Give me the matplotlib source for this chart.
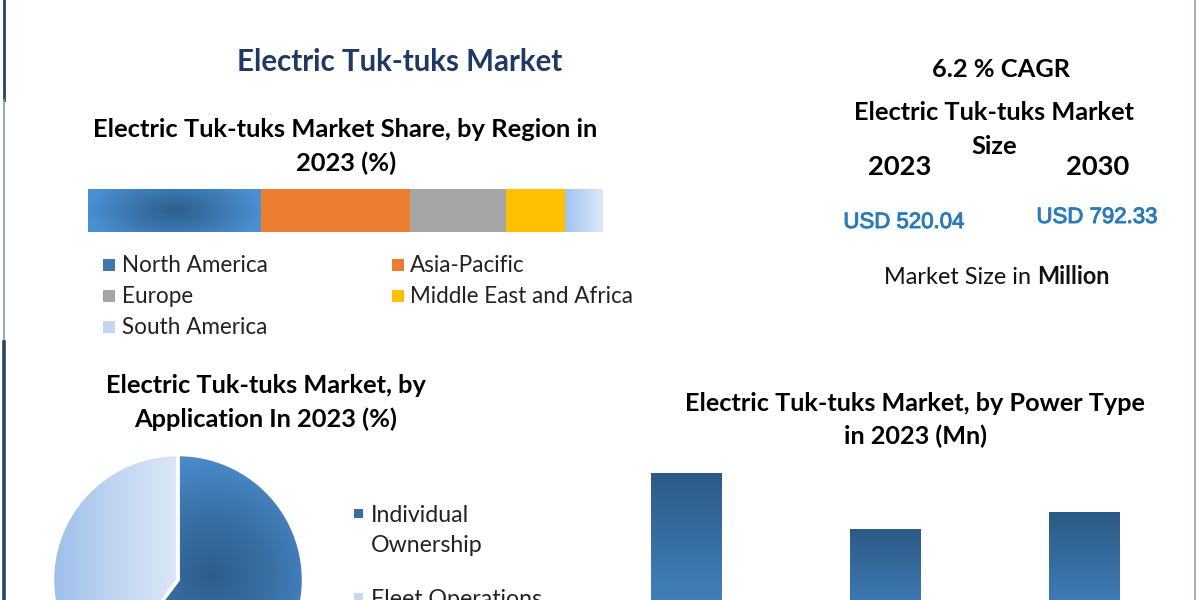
import numpy as np
import matplotlib
matplotlib.use("Agg")
import matplotlib.pyplot as plt
from matplotlib.colors import LinearSegmentedColormap
from matplotlib.patches import Rectangle
from matplotlib.lines import Line2D
import matplotlib.patheffects as pe

# ---------------- data ----------------
regions = ["North America", "Asia-Pacific", "Europe", "Middle East and Africa", "South America"]
region_share = [33.6, 29.1, 18.6, 11.5, 7.2]
region_colors = ["#3f78b0", "#ed7d31", "#a5a5a5", "#ffc000", "#c3d6f2"]

applications = ["Individual\nOwnership", "Fleet Operations"]
application_share = [60.3, 39.7]
application_colors = ["#3a6ea2", "#c6d9f2"]

power_types = ["Power Type 1", "Power Type 2", "Power Type 3"]
power_values = [209, 146, 165]

cagr_text = "6.2 % CAGR"
years = ["2023", "2030"]
market_size = ["USD 520.04", "USD 792.33"]

# ---------------- figure ----------------
W, H = 1200, 600
fig = plt.figure(figsize=(12, 6), dpi=100)
fig.patch.set_facecolor("white")
renderer = fig.canvas.get_renderer()

HEAD = "Lato"
BODY = "Lato"


def fit_size(s, w, **kw):
    t = fig.text(0, 0, s, fontsize=20, **kw)
    bb = t.get_window_extent(renderer)
    t.remove()
    return 20 * w / bb.width


def put(s, x, y, size, ha="center", va="baseline", **kw):
    return fig.text(x / W, 1 - y / H, s, fontsize=size, ha=ha, va=va, **kw)


def axes_px(x0, y0, x1, y1):
    return fig.add_axes([x0 / W, 1 - y1 / H, (x1 - x0) / W, (y1 - y0) / H])


# ---------------- border lines ----------------
line_ax = fig.add_axes([0, 0, 1, 1])
line_ax.set_xlim(0, W)
line_ax.set_ylim(H, 0)
line_ax.axis("off")
line_ax.add_line(Line2D([3.5, 3.5], [0, 100], color="#2b4460", lw=2.0))
line_ax.add_line(Line2D([3.5, 3.5], [100, 342], color="#8898a8", lw=1.2))
line_ax.add_line(Line2D([4, 4], [342, 600], color="#2b4460", lw=2.6))
line_ax.add_line(Line2D([1195, 1195], [0, 600], color="#9aa4ae", lw=1.2))

# ---------------- titles ----------------
s = fit_size("Electric Tuk-tuks Market", 327, family=HEAD, weight="bold")
put("Electric Tuk-tuks Market", 400, 71, s, family=HEAD, weight="bold", color="#1f3864")

s = fit_size("Electric Tuk-tuks Market Share, by Region in", 505, family=HEAD, weight="bold")
put("Electric Tuk-tuks Market Share, by Region in", 345, 137, s, family=HEAD, weight="bold", color="black")
put("2023 (%)", 346, 171, s, family=HEAD, weight="bold", color="black")

# right panel
s = fit_size("Electric Tuk-tuks Market", 281, family=HEAD, weight="bold")
put(cagr_text, 1001, 77, s, family=HEAD, weight="bold", color="black")
put("Electric Tuk-tuks Market", 994, 120, s, family=HEAD, weight="bold", color="black")
put("Size", 994, 154, s, family=HEAD, weight="bold", color="black")
put(years[0], 900, 175, s * 1.08, family=HEAD, weight="bold", color="black")
put(years[1], 1098, 175, s * 1.08, family=HEAD, weight="bold", color="black")

s_usd = fit_size(market_size[0], 121, family="Liberation Sans")
thick = [pe.withStroke(linewidth=0.7, foreground="#2b7bb9")]
put(market_size[0], 904, 228, s_usd, family="Liberation Sans", color="#2b7bb9", path_effects=thick)
put(market_size[1], 1097, 223, s_usd, family="Liberation Sans", color="#2b7bb9", path_effects=thick)

# "Market Size in Million"
s_ms = 16
t1 = fig.text(0, 0, "Market Size in ", fontsize=s_ms, family=BODY)
t2 = fig.text(0, 0, "Million", fontsize=s_ms, family=BODY, weight="bold")
w1 = t1.get_window_extent(renderer).width
w2 = t2.get_window_extent(renderer).width
t1.remove(); t2.remove()
k = 227 / (w1 + w2)
s_ms *= k
w1 *= k; w2 *= k
x0 = 997 - 227 / 2
put("Market Size in ", x0, 284, s_ms, ha="left", family=BODY, color="#111111")
put("Million", x0 + w1, 284, s_ms, ha="left", family=BODY, weight="bold", color="#111111")

# bottom headings
s = fit_size("Electric Tuk-tuks Market, by", 321, family=HEAD, weight="bold")
put("Electric Tuk-tuks Market, by", 266, 393, s, family=HEAD, weight="bold", color="black")
put("Application In 2023 (%)", 266, 427, s, family=HEAD, weight="bold", color="black")

s = fit_size("Electric Tuk-tuks Market, by Power Type", 462, family=HEAD, weight="bold")
put("Electric Tuk-tuks Market, by Power Type", 915, 411, s, family=HEAD, weight="bold", color="black")
put("in 2023 (Mn)", 915, 444, s, family=HEAD, weight="bold", color="black")

# ---------------- stacked region bar ----------------
bar_x0, bar_x1, bar_y0, bar_y1 = 88, 602, 189, 232
ax1 = axes_px(bar_x0, bar_y0, bar_x1, bar_y1)
lefts = np.concatenate([[0], np.cumsum(region_share)[:-1]])
patches = []
for i in range(len(regions)):
    b = ax1.barh([0.5], [region_share[i]], left=[lefts[i]], height=1, color=region_colors[i])
    patches += list(b.patches)
ax1.set_xlim(0, sum(region_share))
ax1.set_ylim(0, 1)
ax1.axis("off")

# gradients for North America (radial dark core) and South America (horizontal)
na_cmap = LinearSegmentedColormap.from_list("na", ["#2d5f8f", "#3b76ad", "#4a8fd2"])
xx, yy = np.meshgrid(np.linspace(0, 1, 300), np.linspace(0, 1, 60))
d = np.sqrt(((xx - 0.5) / 0.5) ** 2 + ((yy - 0.5) / 0.9) ** 2)
im = ax1.imshow(np.clip(d, 0, 1), cmap=na_cmap, vmin=0, vmax=1, aspect="auto",
                extent=[lefts[0], lefts[0] + region_share[0], 0, 1], origin="lower", zorder=3)
im.set_clip_path(patches[0])
sa_cmap = LinearSegmentedColormap.from_list("sa", ["#a2c3ee", "#dde8f8"])
grad = np.tile(np.linspace(0, 1, 100), (10, 1))
im = ax1.imshow(grad, cmap=sa_cmap, aspect="auto",
                extent=[lefts[4], lefts[4] + region_share[4], 0, 1], origin="lower", zorder=3)
im.set_clip_path(patches[4])
ax1.set_xlim(0, sum(region_share))
ax1.set_ylim(0, 1)

# region legend
leg_rows = [(0, 0), (1, 0), (0, 1), (1, 1), (0, 2)]
col_sq = [103, 392]
col_tx = [122, 410]
row_base = [272, 303, 334]
s_leg = fit_size("North America", 146, family=BODY)
for i, name in enumerate(regions):
    c, r = leg_rows[i]
    line_ax.add_patch(Rectangle((col_sq[c], row_base[r] - 13), 12, 12, color=region_colors[i], lw=0))
    put(name, col_tx[c], row_base[r], s_leg, ha="left", family=BODY, color="#222222")

# ---------------- pie ----------------
cx, cy, R = 178, 580, 128
ax2 = axes_px(cx - R, cy - R, cx + R, cy + R)
wedges, _ = ax2.pie(application_share, colors=application_colors, startangle=90,
                    counterclock=False, radius=1,
                    wedgeprops=dict(edgecolor="white", linewidth=2.5))
ax2.set_aspect("equal")
dk_cmap = LinearSegmentedColormap.from_list("dk", ["#2e5d8b", "#3a70a6", "#4a8bcc"])
gx, gy = np.meshgrid(np.linspace(-1, 1, 300), np.linspace(-1, 1, 300))
dd = np.sqrt((gx - 0.27) ** 2 + (gy - 0.04) ** 2) / 0.95
im = ax2.imshow(np.clip(dd, 0, 1), cmap=dk_cmap, vmin=0, vmax=1, extent=[-1, 1, -1, 1],
                origin="lower", aspect="auto", zorder=0.5)
im.set_clip_path(wedges[0])
lt_cmap = LinearSegmentedColormap.from_list("lt", ["#9dbfeb", "#c0d5f1", "#dde8f8"])
lg = np.tile(np.linspace(0, 1, 200), (10, 1))
im = ax2.imshow(lg, cmap=lt_cmap, extent=[-1, 0, -1, 1], origin="lower", aspect="auto", zorder=0.5)
im.set_clip_path(wedges[1])
for w in wedges:
    w.set_zorder(1)
    w.set_facecolor("none")
ax2.set_xlim(-1.02, 1.02)
ax2.set_ylim(-1.02, 1.02)
ax2.axis("off")

# pie legend
s_pl = fit_size("Ownership", 112, family=BODY)
pie_leg_y = [522, 606]
for i, name in enumerate(applications):
    lines = name.split("\n")
    line_ax.add_patch(Rectangle((354, pie_leg_y[i] - 13), 9, 9, color=application_colors[i], lw=0))
    for j, ln in enumerate(lines):
        put(ln, 371, pie_leg_y[i] + 30 * j, s_pl, ha="left", family=BODY, color="#222222")

# ---------------- power type bars ----------------
base_px, unit_px = 660, 0.895
ytop = 250
ax3 = axes_px(587, base_px - ytop * unit_px, 587 + 597, base_px)
xs = np.arange(len(power_types))
bc = ax3.bar(xs, power_values, width=0.352, color="#3a72a8", zorder=1)
bar_cmap = LinearSegmentedColormap.from_list("bar", ["#2d5a85", "#3c76ae", "#4b8ece"])
vg = np.linspace(0, 1, 200).reshape(-1, 1)  # row 0 (top) dark -> bottom light
for rect, v in zip(bc.patches, power_values):
    im = ax3.imshow(vg, cmap=bar_cmap, vmin=0, vmax=1, origin="upper", aspect="auto",
                    extent=[rect.get_x(), rect.get_x() + rect.get_width(), 0, v], zorder=2)
    im.set_clip_path(rect)
ax3.set_xlim(-0.5, 2.5)
ax3.set_ylim(0, ytop)
ax3.set_xticks(xs, power_types)
ax3.axis("off")

fig.savefig("out.png", dpi=100, facecolor="white")
